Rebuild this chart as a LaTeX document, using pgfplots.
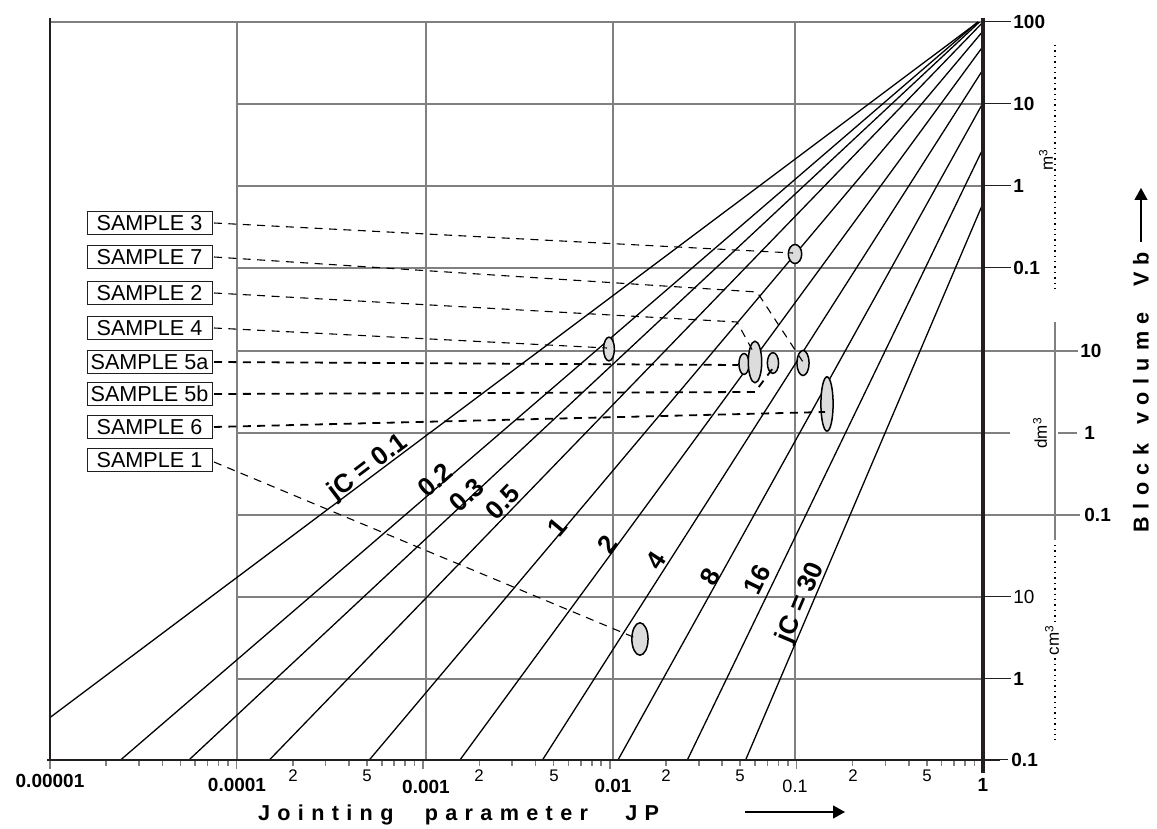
\documentclass[border=0pt]{standalone}
\usepackage{pgfplots}
\pgfplotsset{compat=1.18}
\usetikzlibrary{arrows.meta}
\usepackage{fontspec}
\setmainfont{Liberation Sans}
\newfontfamily\spaced[LetterSpace=34]{Liberation Sans}
\definecolor{gridgray}{HTML}{808080}
\definecolor{ellfill}{HTML}{DCDCDC}
\definecolor{axdark}{HTML}{231F20}

\begin{document}
\begin{tikzpicture}[px/.style={x=0.5pt,y=-0.5pt,yshift=414.5pt}]
\useasboundingbox (0,0) rectangle (578.5pt,414.5pt);

% grid (pixel coordinates of the original sheet)
\begin{scope}[px, gridgray, line width=0.85pt]
  \draw (50,22) -- (983,22);
  \foreach \y in {104,186,268,433,597,679} \draw (237,\y) -- (983,\y);
  \draw (237,351) -- (1078,351);
  \draw (237,515) -- (1080,515);
  \draw (983,433) -- (1010,433) (1058,433) -- (1077,433);
  \draw (1055,322) -- (1055,540);
  \foreach \x in {237,426,613,795} \draw (\x,21) -- (\x,760);
\end{scope}

\begin{axis}[
  at={(25pt,34.5pt)}, anchor=south west,
  scale only axis, width=466.5pt, height=369pt,
  xmode=log, ymode=log,
  xmin=1e-5, xmax=1, ymin=1e-7, ymax=100,
  axis line style={draw=none},
  ytick=\empty,
  xtick={1e-5,1e-4,1e-3,1e-2,1e-1,1},
  xticklabels={,,,,,},
  extra x ticks={2e-4,5e-4,2e-3,5e-3,2e-2,5e-2,0.2,0.5},
  extra x tick labels={,,,,,,,},
  xtick pos=left, tick align=outside,
  major tick length=4.5pt,
  extra x tick style={major tick length=2.5pt},
  tick style={gridgray, line width=0.8pt},
  clip=false,
  jc/.style={black, line width=0.65pt},
  ell/.style 2 args={only marks, mark=*, mark size=#1,
    mark options={fill=ellfill, draw=black, line width=0.75pt, yscale=#2}},
]
% jC lines
\addplot[jc] coordinates {(1e-5,3.297e-7) (0.9416,100)};
\addplot[jc] coordinates {(2.388e-5,1e-7) (0.9387,100)};
\addplot[jc] coordinates {(5.551e-5,1e-7) (0.9574,100)};
\addplot[jc] coordinates {(1.498e-4,1e-7) (1,99.7)};
\addplot[jc] coordinates {(5.14e-4,1e-7) (1,77.48)};
\addplot[jc] coordinates {(1.573e-3,1e-7) (1,50.44)};
\addplot[jc] coordinates {(4.357e-3,1e-7) (1,26.25)};
\addplot[jc] coordinates {(1.1063e-2,1e-7) (1,10.318)};
\addplot[jc] coordinates {(2.603e-2,1e-7) (1,2.858)};
\addplot[jc] coordinates {(5.342e-2,1e-7) (1,0.6148)};
% samples
\addplot[ell={3.35pt}{1.42}] coordinates {(0.0983,0.1482)};
\addplot[ell={2.7pt}{2.2}]   coordinates {(0.00990,0.01028)};
\addplot[ell={2.55pt}{2.05}] coordinates {(0.0524,0.006753)};
\addplot[ell={3.35pt}{3.1}]  coordinates {(0.0600,0.007142)};
\addplot[ell={2.8pt}{1.85}]  coordinates {(0.0749,0.006942)};
\addplot[ell={3.05pt}{2.05}] coordinates {(0.1085,0.006942)};
\addplot[ell={3.05pt}{4.45}] coordinates {(0.1459,0.002196)};
\addplot[ell={4.05pt}{2.0}]  coordinates {(0.01451,2.99e-6)};
\end{axis}

\begin{scope}[px]
  % frame
  \draw[axdark, line width=0.6pt] (50,18) -- (50,760);
  \draw[axdark, line width=1.4pt] (47,760) -- (1000,760);
  \draw[axdark, line width=1.7pt] (983,18) -- (983,773);

  % sample boxes
  \foreach \yy/\t in {223/3,257/7,293/2,328/4,362/5a,394/5b,427/6,460/1}
    \node[draw=axdark, line width=0.5pt, fill=white, minimum width=62.5pt,
      minimum height=11.5pt, inner sep=0pt,
      font=\fontsize{10.8}{12}\selectfont] at (149.5,\yy) {SAMPLE \t};

  % leader lines
  \begin{scope}[dash pattern=on 4pt off 3.2pt, line width=0.55pt]
    \draw (214,223) -- (793,253);
    \draw (214,257) -- (757,292) -- (803,362);
    \draw (214,293) -- (737,322) -- (755,355);
    \draw (214,328) -- (607,348);
    \draw (214,462) -- (638,639);
  \end{scope}
  \begin{scope}[dash pattern=on 4pt off 3.2pt, line width=0.9pt]
    \draw (214,362) -- (738,365);
    \draw (214,394) -- (755,392) -- (773,368);
    \draw (214,427) -- (825,412);
  \end{scope}

  % jC labels
  \begin{scope}[font=\fontsize{13}{15}\selectfont\bfseries, inner sep=0pt]
    \node[rotate=37] at (368,468) {jC = 0.1};
    \node[rotate=41] at (435,480) {0.2};
    \node[rotate=43] at (467,495) {0.3};
    \node[rotate=46] at (503,502) {0.5};
    \node[rotate=50] at (557,527) {1};
    \node[rotate=54] at (607,544) {2};
    \node[rotate=57] at (656,561) {4};
    \node[rotate=61] at (710,577) {8};
    \node[rotate=64] at (757,580) {16};
    \node[rotate=67] at (801,603) {jC = 30};
  \end{scope}

  % x tick labels
  \begin{scope}[font=\fontsize{9.5}{11}\selectfont\bfseries]
    \node at (50,781) {0.00001};
    \node at (237,785) {0.0001};
    \node at (426,787) {0.001};
    \node at (613,786) {0.01};
    \node at (983,785) {1};
  \end{scope}
  \node[font=\fontsize{9}{11}\selectfont] at (795,786) {0.1};
  \begin{scope}[font=\fontsize{8.4}{10}\selectfont]
    \foreach \x/\t in {293/2,367/5,479/2,554/5,666/2,740/5,853/2,927/5}
      \node at (\x,776) {\t};
  \end{scope}

  % x axis title
  \node[anchor=base west, font=\spaced\bfseries\fontsize{10.8}{12}\selectfont]
    at (251,821) {Jointing\hspace{9pt} parameter\hspace{12pt} JP};
  \draw[line width=0.6pt, -{Triangle[length=6pt,width=6.5pt]}] (745,812) -- (845,812);

  % right scale
  \begin{scope}[axdark, line width=0.5pt]
    \foreach \y in {22,104,186,268,597,679} \draw (983,\y) -- (1011,\y);
    \draw (983,760) -- (1008,760);
  \end{scope}
  \begin{scope}[font=\fontsize{9.5}{11}\selectfont\bfseries]
    \node[anchor=west, inner sep=1pt] at (1011,22) {100};
    \node[anchor=west, inner sep=1pt] at (1011,104) {10};
    \node[anchor=west, inner sep=1pt] at (1011,186) {1};
    \node[anchor=west, inner sep=1pt] at (1011,268) {0.1};
    \node[anchor=west, inner sep=1pt] at (1078,351) {10};
    \node[anchor=west, inner sep=1pt] at (1082,433) {1};
    \node[anchor=west, inner sep=1pt] at (1082,515) {0.1};
    \node[anchor=west, inner sep=1pt] at (1011,679) {1};
    \node[anchor=west, inner sep=1pt] at (1009,760) {0.1};
  \end{scope}
  \node[anchor=west, inner sep=1pt, font=\fontsize{9.5}{11}\selectfont] at (1011,597) {10};
  \draw[dotted, line width=0.7pt] (1055,45) -- (1055,293);
  \draw[dotted, line width=0.7pt] (1055,545) -- (1055,740);
  \begin{scope}[font=\fontsize{8.5}{10}\selectfont]
    \node[rotate=90] at (1046,160) {m\textsuperscript{3}};
    \node[rotate=90] at (1040,433) {dm\textsuperscript{3}};
    \node[rotate=90, fill=white, inner sep=1pt] at (1052,640) {cm\textsuperscript{3}};
  \end{scope}

  % y axis title
  \node[rotate=90, font=\spaced\bfseries\fontsize{10.8}{12}\selectfont]
    at (1141,392) {Block\hspace{3pt} volume\hspace{6pt} Vb};
  \draw[line width=0.6pt, -{Triangle[length=6pt,width=6.5pt]}] (1141,242) -- (1141,188);
\end{scope}
\end{tikzpicture}
\end{document}
